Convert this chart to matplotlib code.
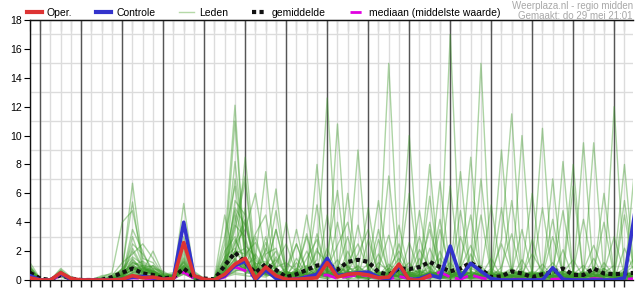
import matplotlib.pyplot as plt
from matplotlib.lines import Line2D
import numpy as np

plt.rcParams['font.family'] = ['Liberation Sans', 'DejaVu Sans']

# 6-hourly steps, starting vr 29 mei 18:00
step_hours = 6
day_labels = ['Vr 30', 'Za 31', 'Zo 1', 'Ma 2', 'Di 3', 'Wo 4', 'Do 5',
              'Vr 6', 'Za 7', 'Zo 8', 'Ma 9', 'Di 10', 'Wo 11', 'Do 12']

oper = [0.15, 0, 0, 0.5, 0.1, 0, 0, 0, 0, 0.05,
        0.3, 0.15, 0.2, 0.05, 0.1, 2.6, 0.3, 0.05, 0, 0.4,
        1.1, 1.5, 0.1, 0.9, 0.3, 0.05, 0.05, 0.1, 0.15, 1.2,
        0.2, 0.4, 0.45, 0.35, 0.15, 0.2, 1.1, 0, 0, 0.3]

controle = [0.3, 0, 0, 0.45, 0.05, 0, 0, 0, 0, 0.05,
            0.2, 0.25, 0.15, 0.05, 0.1, 4.0, 0.3, 0, 0, 0.3,
            1.0, 1.3, 0, 0.7, 0.1, 0, 0.05, 0.2, 0.4, 1.5,
            0.3, 0.4, 0.5, 0.55, 0.2, 0.05, 1.0, 0, 0.1, 0.35,
            0.15, 2.35, 0.2, 1.15, 0.6, 0.1, 0, 0, 0, 0,
            0, 0.85, 0.05, 0, 0, 0, 0, 0, 0.15, 4.6]

gemiddelde = [0.5, 0.1, 0, 0.35, 0.1, 0, 0, 0.02, 0.2, 0.5,
              0.8, 0.45, 0.35, 0.1, 0.2, 0.8, 0.2, 0.1, 0.05, 1.0,
              1.9, 1.2, 0.5, 1.1, 0.7, 0.2, 0.4, 0.7, 1.0, 1.1,
              0.7, 1.25, 1.4, 1.25, 0.55, 0.35, 0.8, 0.75, 0.9, 1.25,
              0.9, 0.6, 0.8, 1.2, 0.75, 0.2, 0.25, 0.6, 0.45, 0.2,
              0.4, 0.55, 0.8, 0.35, 0.35, 0.8, 0.45, 0.4, 0.45, 0.5]

mediaan = [0.25, 0, 0, 0.3, 0.05, 0, 0, 0, 0, 0.05,
           0.15, 0.1, 0.1, 0.05, 0.1, 0.55, 0.1, 0, 0, 0.2,
           0.9, 0.65, 0.15, 0.6, 0.2, 0.05, 0.1, 0.25, 0.3, 0.35,
           0.1, 0.25, 0.35, 0.3, 0.1, 0.05, 0.25, 0.1, 0.05, 0.2,
           0.55, 0.2, 0.05, 0.35, 0.15, 0.02, 0, 0.05, 0.05, 0,
           0.05, 0.05, 0.1, 0, 0, 0.1, 0.05, 0, 0.05, 0.1]

leden = [
    [0.8, 0, 0, 0.5, 0.1, 0, 0, 0, 0.1, 0.6, 6.7, 1.2, 0.6, 0.2, 0.3, 1.0, 0.1, 0, 0, 0.8,
     3.5, 6.8, 0.5, 1.8, 2.2, 0.4, 0.2, 1.5, 2.8, 0.6, 0.3, 1.2, 2.5, 0.8, 0.1, 0.5, 1.5, 0.3, 0, 2.2,
     0.5, 0.1, 0, 1.8, 0.4, 0, 0, 0.6, 0.2, 0.1, 0, 0.3, 2.1, 0.1, 0, 0, 1.2, 0.3, 0, 0.2],
    [0.4, 0, 0, 0.6, 0, 0, 0, 0, 0, 0.8, 5.4, 0.8, 0.5, 0.1, 0.1, 1.5, 0.2, 0, 0, 1.4,
     8.2, 2.0, 0.6, 1.2, 0.4, 0.1, 0, 0.6, 1.4, 12.6, 1.0, 0.4, 0.2, 0, 0.8, 3.1, 0.4, 0.1, 0.6, 0.3,
     0.2, 0, 1.2, 4.5, 0.3, 0.1, 0, 0, 0.4, 1.8, 0.6, 0, 0, 0, 0.7, 2.4, 0.5, 0, 0, 0.1],
    [1.2, 0.1, 0, 0.4, 0.1, 0, 0, 0.2, 0.5, 4.0, 4.8, 1.5, 1.2, 0.3, 0.2, 5.3, 0.4, 0, 0, 2.5,
     12.1, 1.0, 0.3, 2.2, 0.8, 0.2, 0.6, 3.0, 0.4, 0.2, 0.9, 0, 0.5, 1.1, 0.3, 0.2, 0, 0.4, 2.1, 0.8,
     0.1, 0.3, 0.6, 0, 0, 0.2, 0.9, 3.2, 0.1, 0, 0, 0, 0.5, 1.4, 0.2, 0, 0, 0.1, 0.4, 1.6],
    [0.6, 0, 0, 0.3, 0, 0, 0, 0, 0.1, 0.3, 3.5, 2.0, 0.4, 0.1, 0.2, 2.0, 0.3, 0, 0, 0.5,
     1.5, 8.5, 1.4, 0.6, 3.5, 0.6, 0.1, 0.3, 0.5, 1.8, 6.2, 0.5, 0.2, 0.1, 0.4, 15.0, 0.6, 0, 0.2, 1.2,
     0.4, 0.3, 0.1, 0.2, 1.0, 0.1, 0, 0, 0, 0.3, 1.1, 0.2, 0, 0.4, 1.0, 0.1, 0, 0, 2.2, 0.5],
    [0.3, 0, 0, 0.8, 0.2, 0, 0, 0, 0, 0.2, 3.0, 1.0, 0.9, 0.4, 0.5, 1.2, 0.1, 0, 0.1, 3.0,
     6.5, 1.5, 3.2, 4.5, 0.5, 0.3, 1.2, 0.2, 0.1, 0.8, 2.4, 4.0, 0.6, 0.2, 0, 0.4, 1.1, 0.3, 0, 0.2,
     0.3, 17.0, 0.5, 0.1, 0.2, 0.6, 0, 0.1, 1.4, 0.2, 0, 0, 0.2, 0, 0.1, 0.9, 0.3, 0.2, 0, 0.5],
    [0.5, 0.1, 0, 0.5, 0.1, 0, 0, 0.1, 0.2, 0.5, 2.5, 1.8, 0.7, 0.2, 0.3, 0.8, 0.2, 0, 0, 1.0,
     4.0, 7.2, 1.0, 0.4, 1.2, 2.5, 0.4, 0.1, 0.8, 0.3, 0.2, 0.6, 1.8, 3.5, 0.2, 0.1, 0.6, 1.2, 0.3, 0,
     1.5, 0.4, 0.2, 0.5, 15.0, 0.2, 0.1, 0.3, 0, 0, 0.4, 1.2, 0.3, 0, 0, 0.2, 0.8, 0.1, 0.3, 0],
    [0.9, 0, 0, 0.4, 0, 0, 0, 0, 0, 0.4, 2.0, 0.8, 1.0, 0.5, 0.2, 3.0, 0.5, 0.1, 0, 0.6,
     2.5, 3.5, 6.0, 1.5, 0.3, 0.1, 0, 0.5, 2.0, 1.2, 0.5, 0.2, 0.3, 0.8, 5.5, 0.7, 0.2, 0, 0.4, 0.9,
     0.2, 0.1, 3.0, 0.6, 0.3, 0.2, 0.4, 0, 0.3, 0.6, 10.5, 0.3, 0.1, 0.2, 0.5, 0.1, 0, 0.3, 0.8, 0.2],
    [0.2, 0, 0, 0.6, 0.1, 0, 0, 0, 0.3, 1.2, 1.8, 2.5, 1.5, 0.3, 0.2, 1.8, 0.2, 0, 0.2, 1.5,
     11.0, 1.2, 0.6, 3.0, 0.4, 0.8, 2.5, 0.6, 0.2, 0.1, 0.4, 1.0, 0.2, 0.1, 0.6, 0.2, 0, 2.6, 0.5, 0.1,
     0.8, 0.3, 0.2, 1.1, 0.2, 0.3, 2.8, 11.5, 0.4, 0, 0.2, 0.6, 0, 0, 0.3, 0.4, 0.1, 0, 0.5, 1.0],
    [0.7, 0, 0, 0.3, 0, 0, 0, 0, 0, 0.2, 1.5, 0.6, 2.0, 0.4, 0.3, 2.5, 0.3, 0, 0, 0.3,
     5.5, 4.5, 0.8, 2.0, 6.3, 0.5, 0.3, 0.2, 0.4, 2.2, 0.3, 0.1, 0.8, 0.4, 0.2, 0.6, 0.4, 0.2, 0, 0.5,
     4.2, 0.2, 0.1, 0.3, 0.8, 0.1, 0, 0.2, 0.6, 0.1, 0.3, 0, 8.2, 0.3, 0, 0.2, 0.6, 0.4, 0.1, 7.8],
    [0.4, 0, 0, 0.7, 0.1, 0, 0, 0, 0.1, 0.3, 1.2, 1.0, 0.3, 0.2, 0.4, 4.0, 0.6, 0.1, 0, 0.4,
     2.0, 1.8, 2.6, 0.9, 0.2, 0.1, 0.6, 1.0, 0.5, 0.3, 10.8, 0.6, 0.1, 0.3, 0.1, 0.8, 2.0, 0.4, 0.2, 0.1,
     0.5, 1.2, 0.3, 0.2, 0.1, 0, 0.3, 0.1, 10.0, 0.3, 0.1, 0.2, 0.4, 0.6, 0.2, 0, 0.1, 12.0, 0.3, 0.1],
    [1.0, 0, 0, 0.4, 0, 0, 0, 0.3, 0.4, 0.6, 1.0, 1.3, 0.8, 0.6, 0.2, 1.0, 0.1, 0, 0, 0.9,
     7.0, 2.8, 0.2, 1.0, 2.0, 0.2, 0.1, 0.4, 3.2, 0.5, 0.2, 2.0, 0.4, 0.2, 0.3, 0.1, 0.5, 0.2, 0.8, 3.5,
     0.6, 0.2, 0.5, 0.1, 0.3, 1.5, 0.2, 0, 0.2, 0.4, 0.3, 0.1, 0, 0.2, 9.5, 0.3, 0.2, 0.5, 0, 0.3],
    [0.6, 0, 0, 0.5, 0.2, 0, 0, 0, 0, 0.5, 0.9, 0.7, 0.6, 0.1, 0.1, 0.6, 0.1, 0, 0.1, 2.0,
     3.0, 1.0, 1.5, 7.5, 0.6, 0.3, 0.2, 0.8, 0.3, 0.4, 0.6, 0.3, 3.8, 0.6, 0.1, 0.2, 0.3, 0.5, 0.1, 0.3,
     0.2, 0.4, 0.1, 0.8, 0.5, 0.2, 5.0, 0.6, 0.3, 0.1, 0.5, 0.2, 0.6, 8.0, 0.1, 0.4, 0, 0.2, 0.6, 0.3],
    [0.3, 0, 0, 0.4, 0.1, 0, 0, 0, 0.1, 0.2, 0.8, 0.5, 0.5, 0.2, 0.3, 0.9, 0.2, 0, 0, 0.2,
     1.0, 5.0, 0.4, 0.5, 0.9, 1.2, 0.6, 0.3, 1.0, 0.6, 0.3, 0.4, 0.2, 0.3, 1.2, 0.6, 0.2, 0.1, 1.5, 0.2,
     0.3, 0.2, 0.8, 2.4, 0.6, 0.1, 0.1, 0.4, 0.2, 0.6, 0.4, 0, 0.2, 0.1, 0.3, 0.2, 0.5, 1.0, 8.0, 0.2],
    [0.5, 0, 0, 0.6, 0, 0, 0, 0, 0, 0.3, 2.2, 0.9, 0.4, 0.3, 0.2, 1.4, 0.3, 0, 0, 0.7,
     1.8, 2.2, 0.9, 0.3, 0.5, 4.0, 0.5, 0.2, 0.6, 0.8, 0.4, 0.9, 0.5, 0.2, 0.4, 0.3, 0.8, 6.0, 0.3, 0.4,
     0.6, 0.5, 0.2, 0.3, 0.2, 0.3, 0.5, 0.2, 0.1, 0, 0.2, 0.5, 0.3, 0.1, 0.2, 1.5, 0.1, 0, 0.2, 0.4],
    [0.8, 0.1, 0, 0.3, 0, 0, 0, 0, 0.2, 0.8, 1.6, 1.1, 0.5, 0.2, 0.1, 0.7, 0.1, 0, 0, 1.2,
     2.8, 1.4, 0.5, 1.1, 0.3, 0.2, 0.4, 4.5, 0.6, 0.2, 0.3, 0.2, 0.6, 0.4, 0.2, 0.5, 0.2, 0.3, 4.8, 0.6,
     0.2, 0.1, 0.2, 0.6, 0.3, 0.4, 0.2, 0.3, 0.8, 6.0, 0.3, 0.1, 0.2, 0.3, 0.1, 0.6, 4.0, 0.2, 0.1, 0.3],
    [0.2, 0, 0, 0.5, 0.1, 0, 0, 0, 0, 0.1, 0.5, 0.4, 0.3, 0.1, 0.2, 0.5, 0.1, 0, 0, 0.3,
     0.8, 0.9, 0.3, 0.4, 0.2, 0.1, 0.2, 0.3, 0.2, 0.1, 0.2, 0.1, 0.1, 0.3, 0.1, 0.2, 0.1, 0.1, 0.2, 0.1,
     0.1, 0.2, 0.1, 0.1, 0.2, 0.1, 0, 0.1, 0.2, 0.1, 0, 0.1, 0.1, 0.2, 0.1, 0, 0.1, 0.1, 0.2, 0.1],
    [0.4, 0, 0, 0.3, 0.1, 0, 0, 0, 0.1, 0.4, 1.3, 0.6, 0.7, 0.3, 0.4, 2.2, 0.2, 0, 0.1, 4.5,
     1.2, 0.8, 1.8, 0.7, 0.3, 0.2, 1.5, 0.4, 0.3, 0.5, 1.4, 0.3, 0.2, 2.8, 0.5, 0.2, 0.4, 0.2, 0.3, 0.2,
     3.5, 0.6, 0.3, 0.2, 7.0, 0.5, 0.2, 0.1, 0.3, 0.2, 0.6, 4.2, 0.3, 0.2, 0.4, 0.3, 0.2, 0.4, 0.3, 0.2],
    [0.6, 0, 0, 0.4, 0, 0, 0, 0, 0, 0.3, 0.7, 0.9, 0.4, 0.1, 0.2, 0.8, 0.2, 0, 0, 0.2,
     0.6, 1.2, 0.7, 0.9, 4.8, 0.6, 0.2, 0.1, 0.5, 0.4, 0.2, 0.5, 0.3, 0.1, 0.2, 7.2, 0.3, 0.2, 0.1, 0.6,
     0.3, 0.2, 0.6, 0.2, 0.3, 0.1, 0.4, 0.3, 0.2, 2.8, 0.1, 0.3, 0.2, 0.1, 0.2, 0.5, 0.3, 0.2, 0.1, 0.2],
    [0.3, 0, 0, 0.5, 0.1, 0, 0, 0, 0.2, 0.6, 0.6, 0.5, 1.0, 0.2, 0.1, 0.4, 0.1, 0, 0, 0.4,
     4.5, 0.6, 0.3, 0.2, 0.6, 0.5, 3.5, 0.3, 0.2, 0.5, 0.3, 0.2, 0.4, 0.6, 0.3, 0.1, 0.6, 0.2, 0.4, 0.3,
     0.5, 6.5, 0.2, 0.1, 0.2, 0.8, 0.3, 0.2, 0.4, 0.3, 0.2, 0.3, 0.2, 0.5, 0.3, 0.2, 0.1, 0.3, 4.5, 0.3],
    [0.5, 0, 0, 0.6, 0.1, 0, 0, 0, 0, 0.2, 0.4, 0.3, 0.3, 0.2, 0.3, 0.6, 0.1, 0, 0, 0.6,
     1.5, 0.5, 0.4, 0.6, 0.2, 0.3, 0.2, 0.6, 5.2, 0.3, 0.2, 0.4, 1.0, 0.3, 0.2, 0.3, 0.3, 0.4, 0.2, 0.3,
     0.2, 0.3, 0.4, 8.5, 0.2, 0.3, 0.2, 0.4, 0.3, 0.2, 0.2, 0.1, 0.3, 0.2, 0.3, 0.1, 0.2, 0.4, 0.3, 0.6],
    [0.7, 0, 0, 0.2, 0, 0, 0, 0, 0, 0.2, 0.5, 0.8, 0.6, 0.3, 0.2, 0.9, 0.2, 0, 0, 0.3,
     0.7, 0.6, 0.9, 0.4, 0.3, 0.2, 0.4, 0.3, 0.4, 0.3, 0.5, 0.3, 0.4, 0.2, 0.3, 0.4, 0.2, 0.3, 0.5, 5.8,
     0.3, 0.4, 0.2, 0.3, 0.4, 0.2, 0.3, 0.2, 0.3, 0.4, 0.2, 0.3, 0.2, 6.5, 0.2, 0.4, 0.3, 0.2, 0.3, 0.2],
    [0.4, 0, 0, 0.5, 0.1, 0, 0, 0, 0, 0.1, 0.3, 0.4, 0.5, 0.2, 0.1, 0.7, 0.2, 0, 0, 1.6,
     2.2, 0.7, 0.3, 0.5, 0.4, 0.6, 0.3, 0.2, 0.7, 0.5, 0.9, 0.6, 0.3, 0.4, 1.8, 0.3, 0.2, 0.6, 0.3, 0.4,
     0.2, 0.6, 0.3, 0.4, 0.2, 0.3, 0.5, 0.3, 0.2, 0.4, 0.6, 0.2, 0.4, 0.3, 0.2, 9.5, 0.3, 0.4, 0.2, 0.3],
    [0.5, 0, 0, 0.4, 0.1, 0, 0, 0, 0.1, 0.4, 0.9, 0.6, 0.4, 0.1, 0.2, 1.1, 0.1, 0, 0, 0.5,
     3.8, 3.0, 0.5, 0.8, 1.4, 0.4, 0.2, 0.9, 0.3, 0.6, 0.4, 6.0, 0.3, 0.2, 0.5, 0.4, 1.0, 0.3, 0.2, 0.5,
     0.3, 0.4, 0.2, 0.3, 0.6, 0.4, 0.2, 0.4, 0.6, 0.2, 0.3, 0.2, 0.5, 0.2, 0.4, 0.3, 0.2, 0.6, 0.3, 0.2],
    [0.6, 0, 0, 0.6, 0.2, 0, 0, 0.2, 0.3, 0.7, 1.4, 0.7, 0.8, 0.4, 0.3, 1.6, 0.3, 0, 0.1, 1.1,
     5.0, 3.8, 1.1, 1.3, 0.7, 0.3, 0.5, 0.3, 0.9, 0.7, 0.6, 0.7, 0.9, 0.5, 0.3, 0.8, 0.5, 0.4, 0.7, 0.6,
     0.4, 0.5, 0.8, 0.4, 0.5, 0.3, 9.0, 0.5, 0.4, 0.3, 0.5, 0.4, 0.6, 0.3, 0.5, 0.4, 0.3, 0.5, 0.4, 0.3],
    [0.3, 0, 0, 0.3, 0, 0, 0, 0, 0, 0.1, 0.2, 0.3, 0.2, 0.1, 0.1, 0.4, 0.1, 0, 0, 0.2,
     0.4, 0.3, 0.2, 0.6, 0.3, 0.1, 0.2, 0.4, 0.3, 0.2, 0.4, 0.2, 0.3, 0.1, 0.2, 0.3, 0.1, 0.2, 0.3, 8.0,
     0.1, 0.2, 0.3, 0.2, 0.1, 0.2, 0.3, 0.1, 0.2, 0.3, 0.1, 0.2, 0.1, 0.3, 0.2, 0.1, 0.2, 0.1, 0.3, 0.2],
    [0.9, 0.1, 0, 0.5, 0.1, 0, 0, 0, 0.1, 0.3, 0.6, 0.8, 0.4, 0.3, 0.1, 1.3, 0.2, 0, 0, 0.6,
     1.0, 1.6, 0.6, 2.6, 0.5, 0.2, 0.8, 0.3, 0.4, 1.5, 0.3, 0.5, 0.7, 0.2, 0.3, 1.1, 0.4, 0.2, 0.3, 0.2,
     2.0, 0.3, 0.4, 0.2, 0.3, 0.5, 0.2, 0.3, 0.1, 0.5, 0.3, 7.0, 0.2, 0.4, 0.3, 0.2, 0.5, 0.3, 0.2, 0.4],
    [0.4, 0, 0, 0.4, 0.1, 0, 0, 0, 0, 0.2, 0.4, 0.5, 0.3, 0.2, 0.2, 0.5, 0.1, 0, 0, 0.3,
     0.6, 0.8, 0.5, 0.3, 1.6, 0.4, 0.3, 0.5, 0.2, 0.3, 0.2, 0.3, 9.0, 0.4, 0.2, 0.3, 2.5, 0.3, 0.2, 0.3,
     0.4, 0.2, 0.3, 0.5, 0.2, 0.4, 0.3, 0.2, 0.5, 0.2, 0.3, 0.2, 0.4, 0.2, 0.3, 0.2, 0.4, 0.2, 0.5, 0.3],
    [0.6, 0, 0, 0.5, 0, 0, 0, 0, 0, 0.4, 1.1, 0.4, 0.6, 0.2, 0.3, 0.8, 0.2, 0, 0, 0.4,
     1.3, 0.7, 0.4, 0.5, 0.3, 0.6, 0.3, 0.2, 0.5, 0.4, 0.3, 0.6, 0.2, 0.5, 0.3, 0.4, 0.3, 0.6, 0.2, 0.3,
     0.3, 0.5, 7.5, 0.3, 0.4, 0.2, 0.3, 0.6, 0.2, 0.3, 0.4, 0.3, 0.2, 0.4, 0.2, 0.3, 0.3, 0.2, 0.4, 0.2],
    [0.2, 0, 0, 0.6, 0.1, 0, 0, 0, 0, 0.2, 0.3, 0.4, 0.2, 0.1, 0.2, 0.6, 0.1, 0, 0, 0.3,
     0.5, 0.4, 1.2, 0.4, 0.2, 0.3, 0.2, 0.3, 0.4, 0.2, 0.5, 0.3, 0.2, 0.3, 0.4, 0.2, 0.3, 10.0, 0.3, 0.5,
     0.2, 0.3, 0.4, 0.2, 0.3, 0.2, 0.4, 0.3, 0.2, 0.3, 0.2, 0.4, 0.3, 0.2, 0.3, 0.2, 0.3, 0.4, 0.2, 0.3],
    [0.5, 0, 0, 0.4, 0.1, 0, 0, 0, 0.1, 0.3, 0.7, 0.6, 0.5, 0.2, 0.1, 0.7, 0.1, 0, 0, 0.5,
     0.9, 1.1, 0.4, 0.7, 0.4, 0.2, 0.6, 0.3, 8.0, 0.4, 0.3, 0.2, 0.4, 0.2, 0.5, 0.3, 0.2, 0.4, 0.3, 0.2,
     0.3, 0.2, 0.5, 0.3, 0.2, 0.4, 0.3, 0.2, 0.3, 0.4, 0.2, 0.3, 0.2, 0.3, 0.4, 0.2, 0.3, 0.2, 0.3, 0.4],
    [0.4, 0, 0, 0.5, 0.1, 0, 0, 0, 0, 0.3, 1.0, 0.7, 0.5, 0.2, 0.2, 1.2, 0.2, 0, 0, 0.8,
     2.6, 4.2, 0.8, 0.6, 0.4, 0.3, 0.5, 2.0, 0.6, 0.3, 0.8, 3.0, 0.4, 0.3, 0.6, 0.4, 0.3, 0.8, 0.5, 0.4,
     0.6, 0.3, 4.8, 0.5, 0.3, 0.2, 0.4, 0.8, 0.3, 0.5, 0.4, 0.3, 0.6, 0.4, 0.3, 0.5, 0.8, 0.4, 0.3, 0.2],
    [0.7, 0, 0, 0.4, 0, 0, 0, 0, 0.2, 0.5, 1.2, 0.9, 0.6, 0.3, 0.2, 0.9, 0.1, 0, 0, 1.3,
     4.8, 2.4, 1.6, 0.5, 0.3, 0.4, 0.6, 0.3, 0.5, 0.7, 0.4, 0.6, 0.5, 0.3, 2.8, 0.5, 0.4, 0.3, 0.6, 0.5,
     0.3, 0.5, 0.6, 0.4, 0.3, 0.5, 0.6, 5.5, 0.3, 0.5, 0.3, 0.6, 0.4, 0.3, 0.6, 0.4, 6.0, 0.4, 0.5, 0.3],
    [0.3, 0, 0, 0.4, 0.1, 0, 0, 0, 0.1, 0.2, 0.8, 0.6, 0.4, 0.2, 0.3, 1.0, 0.2, 0, 0, 0.6,
     1.4, 0.9, 0.6, 0.8, 3.5, 0.5, 0.4, 0.6, 0.5, 4.5, 0.4, 0.3, 0.5, 0.4, 0.3, 0.6, 3.8, 0.4, 0.3, 0.5,
     0.4, 0.3, 0.6, 0.4, 0.5, 5.2, 0.4, 0.3, 0.5, 0.4, 0.3, 3.0, 0.4, 0.3, 0.5, 0.4, 0.3, 0.4, 5.5, 0.4],
    [0.6, 0, 0, 0.5, 0, 0, 0, 0, 0, 0.4, 0.9, 0.5, 0.6, 0.3, 0.2, 0.8, 0.1, 0, 0, 1.0,
     2.0, 4.0, 0.7, 0.5, 0.6, 0.4, 2.5, 0.5, 0.4, 0.6, 0.5, 0.4, 0.6, 5.0, 0.5, 0.4, 0.3, 0.5, 0.6, 0.4,
     6.8, 0.5, 0.4, 0.3, 0.5, 0.6, 0.4, 0.5, 3.5, 0.4, 0.5, 0.3, 0.4, 0.6, 4.2, 0.5, 0.4, 0.3, 0.5, 0.4],
    [0.5, 0, 0, 0.3, 0.1, 0, 0, 0, 0.1, 0.3, 0.7, 1.0, 0.5, 0.2, 0.3, 1.3, 0.2, 0, 0, 0.7,
     2.0, 1.2, 0.6, 0.5, 0.7, 0.4, 0.6, 3.2, 0.5, 0.4, 4.0, 0.5, 0.4, 0.6, 0.5, 0.4, 0.6, 0.5, 3.0, 0.4,
     0.5, 0.4, 0.6, 0.5, 4.5, 0.4, 0.5, 0.6, 0.4, 0.5, 5.0, 0.4, 0.6, 0.5, 0.4, 0.5, 0.6, 3.0, 0.4, 0.5],
    [0.8, 0, 0, 0.6, 0.1, 0, 0, 0, 0, 0.2, 0.5, 0.6, 0.7, 0.2, 0.2, 0.9, 0.2, 0, 0, 0.5,
     1.1, 0.8, 3.0, 0.6, 0.5, 0.4, 0.6, 0.5, 2.2, 0.4, 0.5, 0.6, 0.4, 0.5, 3.5, 0.4, 0.6, 0.5, 0.4, 4.0,
     0.5, 0.6, 0.4, 0.5, 0.6, 0.4, 2.5, 0.5, 0.6, 0.4, 0.5, 0.6, 4.8, 0.5, 0.4, 0.6, 0.5, 0.4, 0.6, 3.5],
]

fig = plt.figure(figsize=(6.35, 3.0), dpi=100)
ax = fig.add_axes([30/635, 20/300, 603/635, 260/300])

leden_kleur = '#3c9a28'
for lid in leden:
    ax.plot(np.arange(len(lid))*step_hours, lid, color=leden_kleur, alpha=0.42, lw=1, zorder=2)

ax.plot(np.arange(len(mediaan))*step_hours, mediaan, color='#e000e0', lw=2, dashes=(5, 2), zorder=3)
ax.plot(np.arange(len(gemiddelde))*step_hours, gemiddelde, color='#111111', lw=3, dashes=(1, 0.8), zorder=4)
ax.plot(np.arange(len(controle))*step_hours, controle, color='#3333cc', lw=2.6, zorder=5)
ax.plot(np.arange(len(oper))*step_hours, oper, color='#dd3333', lw=2.6, zorder=6)

n_days = len(day_labels)
ax.set_xlim(0, 353)
ax.set_ylim(0, 18)

# grid: every 6 h light, day boundaries dark
ax.set_xticks(np.arange(0, 354, step_hours))
ax.set_xticks(np.arange(18, 18 + 24*n_days, 24), minor=True)
ax.set_xticklabels([])
ax.set_xticklabels(day_labels, minor=True)
ax.tick_params(axis='x', which='major', direction='out', length=5, width=1, color='#222222')
ax.tick_params(axis='x', which='minor', length=0, pad=6, labelsize=7.5)
ax.set_yticks(np.arange(0, 19, 2))
ax.set_yticks(np.arange(0, 19, 1), minor=True)
ax.tick_params(axis='y', which='major', direction='out', length=4, labelsize=7.5, pad=2)
ax.tick_params(axis='y', which='minor', length=0)

ax.grid(True, which='major', axis='x', color='#dcdcdc', lw=1, zorder=0)
ax.grid(True, which='minor', axis='y', color='#dcdcdc', lw=1, zorder=0)
for d in np.arange(6, 354, 24):
    ax.axvline(d, color='#555555', lw=1, zorder=1)

ax.spines['right'].set_visible(False)
for s in ['left', 'bottom', 'top']:
    ax.spines[s].set_color('#111111')
    ax.spines[s].set_linewidth(1)
ax.set_axisbelow(True)

# top ticks pointing inward
ax_top = ax.secondary_xaxis('top')
ax_top.set_xticks(np.arange(0, 354, step_hours))
ax_top.set_xticklabels([])
ax_top.tick_params(direction='in', length=8, color='#444444')

handles = [
    Line2D([], [], color='#dd3333', lw=3),
    Line2D([], [], color='#3333cc', lw=3),
    Line2D([], [], color='#b5d9a8', lw=1),
    Line2D([], [], color='#111111', lw=3, dashes=(1, 0.8)),
    Line2D([], [], color='#e000e0', lw=2, dashes=(4, 2)),
]
names = ['Oper.', 'Controle', 'Leden', 'gemiddelde', 'mediaan (middelste waarde)']
fig.legend(handles, names, loc='center left', bbox_to_anchor=(27/635, 1 - 13/300),
           ncol=5, frameon=False, fontsize=7.5, handlelength=1.4, handletextpad=0.5,
           columnspacing=2.3, borderpad=0, borderaxespad=0)

fig.text(633/635, 1 - 1/300, 'Weerplaza.nl - regio midden', ha='right', va='top',
         color='#a8a8a8', fontsize=7)
fig.text(633/635, 1 - 11/300, 'Gemaakt: do 29 mei 21:01', ha='right', va='top',
         color='#a8a8a8', fontsize=7)

fig.savefig('out.png', dpi=100)
